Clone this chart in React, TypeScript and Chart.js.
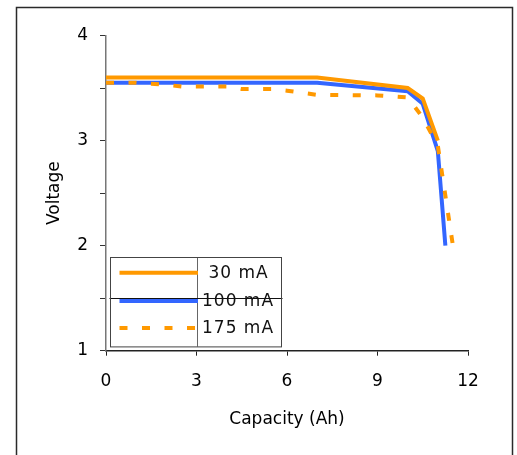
import React, { useEffect, useRef } from 'react';
import { Chart, registerables } from 'chart.js';

Chart.register(...registerables);

// Series data (Capacity in Ah, Voltage in V)
const caps30 = [0, 7, 10, 10.5, 11];
const volts30 = [3.6, 3.6, 3.5, 3.4, 3.0];

const caps100 = [0, 7, 10, 10.5, 11, 11.25];
const volts100 = [3.55, 3.55, 3.47, 3.35, 2.9, 2.0];

const caps175 = [0, 1, 2, 2.5, 4, 4.5, 5.5, 6, 7, 9, 10, 10.5, 11, 11.5];
const volts175 = [3.55, 3.55, 3.53, 3.515, 3.515, 3.49, 3.49, 3.475, 3.435, 3.43, 3.41, 3.22, 2.95, 2.0];

const seriesLabels = ['30 mA', '100 mA', '175 mA'];
const xAxisTitle = 'Capacity (Ah)';
const yAxisTitle = 'Voltage';

const ORANGE = '#FF9900';
const BLUE = '#3366FF';
const FONT = { family: '"DejaVu Sans", sans-serif', size: 17 };

const toPoints = (xs: number[], ys: number[]) => xs.map((x, i) => ({ x, y: ys[i] }));

const framePlugin = {
  id: 'outerFrame',
  afterDraw(chart: any) {
    const { ctx } = chart;
    ctx.save();
    ctx.strokeStyle = '#2a2a2a';
    ctx.lineWidth = 1.5;
    ctx.strokeRect(16.5, 7.5, 496, 470);
    ctx.restore();
  },
};

const legendPlugin = {
  id: 'boxLegend',
  afterDraw(chart: any) {
    const { ctx, chartArea, scales } = chart;
    const left = chartArea.left + 3.5;
    const width = 171;
    const right = left + width;
    const bottom = chartArea.bottom - 4;
    const top = bottom - 89.4;
    ctx.save();
    // stray lines seen inside the legend box
    const vx = Math.round(scales.x.getPixelForValue(3)) + 0.5;
    const hy = Math.round(scales.y.getPixelForValue(1.5)) + 0.5;
    ctx.lineWidth = 1;
    ctx.strokeStyle = '#666';
    ctx.beginPath();
    ctx.moveTo(vx, top);
    ctx.lineTo(vx, bottom);
    ctx.stroke();
    ctx.strokeStyle = '#111';
    ctx.beginPath();
    ctx.moveTo(left, hy);
    ctx.lineTo(right + 2, hy);
    ctx.stroke();
    // border
    ctx.strokeStyle = '#444';
    ctx.strokeRect(Math.round(left) + 0.5, Math.round(top) + 0.5, width, bottom - top);

    const rows = [15.4, 43.7, 70.7];
    chart.data.datasets.forEach((ds: any, i: number) => {
      const y = top + rows[i];
      ctx.save();
      ctx.strokeStyle = ds.borderColor;
      ctx.lineWidth = ds.borderWidth;
      ctx.setLineDash(ds.borderDash || []);
      ctx.beginPath();
      ctx.moveTo(left + 10, y);
      ctx.lineTo(left + 88.5, y);
      ctx.stroke();
      ctx.restore();
      ctx.fillStyle = '#111';
      ctx.font = `${FONT.size}px ${FONT.family}`;
      (ctx as any).letterSpacing = '1px';
      ctx.textAlign = 'left';
      ctx.textBaseline = 'middle';
      ctx.fillText(String(ds.label).padStart(6), left + 92.5, y + 0.5);
    });
    ctx.restore();
  },
};

export default function App() {
  const canvasRef = useRef<HTMLCanvasElement | null>(null);

  useEffect(() => {
    document.body.style.margin = '0';
    const canvas = canvasRef.current;
    if (!canvas) return;
    const chart = new Chart(canvas, {
      type: 'line',
      data: {
        datasets: [
          {
            label: seriesLabels[0],
            data: toPoints(caps30, volts30),
            borderColor: ORANGE,
            backgroundColor: ORANGE,
            borderWidth: 4,
            pointRadius: 0,
            tension: 0,
            order: 0,
          },
          {
            label: seriesLabels[1],
            data: toPoints(caps100, volts100),
            borderColor: BLUE,
            backgroundColor: BLUE,
            borderWidth: 4,
            pointRadius: 0,
            tension: 0,
            order: 2,
          },
          {
            label: seriesLabels[2],
            data: toPoints(caps175, volts175),
            borderColor: ORANGE,
            backgroundColor: ORANGE,
            borderWidth: 4,
            borderDash: [8, 14.5],
            pointRadius: 0,
            tension: 0,
            order: 1,
          },
        ],
      },
      options: {
        responsive: false,
        animation: false,
        layout: { padding: { left: 44.8, top: 35.5, right: 49, bottom: 24.8 } },
        plugins: { legend: { display: false }, tooltip: { enabled: false } },
        scales: {
          x: {
            type: 'linear',
            min: 0,
            max: 12,
            ticks: { stepSize: 3, font: FONT, color: '#000', padding: 16, maxRotation: 0 },
            grid: { drawOnChartArea: false, drawTicks: true, tickLength: 5, color: '#222', lineWidth: 1 },
            border: { display: true, color: '#222', width: 1.5 },
            title: { display: true, text: xAxisTitle, font: FONT, color: '#000', padding: { top: 17.7, bottom: 0 } },
            afterFit: (s: any) => {
              s.height = 79.5;
            },
          },
          y: {
            type: 'linear',
            min: 1,
            max: 4,
            ticks: {
              stepSize: 0.5,
              font: FONT,
              color: '#000',
              padding: 12,
              callback: (v: any) => (Number.isInteger(v) ? String(v) : ''),
            },
            grid: { drawOnChartArea: false, drawTicks: true, tickLength: 6, color: '#333', lineWidth: 1 },
            border: { display: true, color: '#777', width: 1.5 },
            title: { display: true, text: yAxisTitle, font: FONT, color: '#000', padding: { top: 0, bottom: 12 } },
            afterFit: (s: any) => {
              s.width = 61.2;
            },
          },
        },
      },
      plugins: [framePlugin, legendPlugin],
    } as any);
    return () => chart.destroy();
  }, []);

  return (
    <div style={{ width: 517, height: 455 }}>
      <canvas ref={canvasRef} width={517} height={455} style={{ display: 'block' }} />
    </div>
  );
}
